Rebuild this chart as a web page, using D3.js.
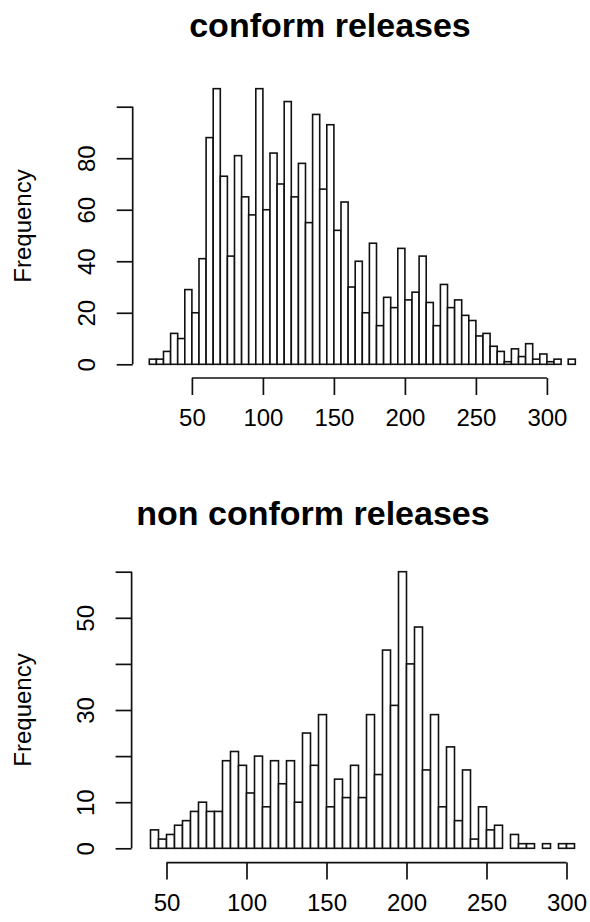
<!DOCTYPE html>
<html>
<head>
<meta charset="utf-8">
<script src="https://cdn.jsdelivr.net/npm/d3@7"></script>
<style>
  body { margin: 0; background: #fff; }
  svg { display: block; font-family: "Liberation Sans", Arial, sans-serif; }
</style>
</head>
<body>
<div id="chart"></div>
<script>
// bin width 5, first bin start
const binWidth = 5;

const conformStart = 20;
const conformCounts = [
  2, 2, 5, 12, 10, 29, 20, 41, 88, 107,
  73, 42, 81, 65, 58, 107, 60, 82, 70, 102,
  65, 78, 55, 97, 68, 93, 52, 63, 30, 40,
  20, 47, 15, 26, 22, 45, 25, 28, 42, 24,
  15, 31, 22, 25, 19, 17, 11, 12, 7, 5,
  1, 6, 3, 8, 2, 4, 1, 2, 0, 2,
];
const conformXTicks = [50, 100, 150, 200, 250, 300];
const conformYTicks = [0, 20, 40, 60, 80, 100];
const conformYLabels = [0, 20, 40, 60, 80];

const nonConformStart = 40;
const nonConformCounts = [
  4, 2, 3, 5, 6, 8, 10, 8, 8, 19,
  21, 18, 12, 20, 9, 19, 14, 19, 10, 25,
  18, 29, 9, 15, 11, 18, 11, 29, 16, 43,
  31, 60, 40, 48, 17, 29, 9, 22, 6, 17,
  2, 9, 4, 5, 0, 3, 1, 1, 0, 1,
  0, 1, 1,
];
const nonConformXTicks = [50, 100, 150, 200, 250, 300];
const nonConformYTicks = [0, 10, 20, 30, 40, 50, 60];
const nonConformYLabels = [0, 10, 30, 50];

const width = 590;
const height = 922;
const ink = '#111';

const svg = d3.select('#chart').append('svg')
  .attr('width', width)
  .attr('height', height);

const toBins = (start, counts) => counts.map((c, i) => ({
  x0: start + i * binWidth,
  x1: start + (i + 1) * binWidth,
  count: c,
}));

const drawHist = (opts) => {
  const bins = toBins(opts.start, opts.counts);
  const x = d3.scaleLinear().domain(opts.xDomain).range(opts.xRange);
  const y = d3.scaleLinear().domain(opts.yDomain).range(opts.yRange);
  const g = svg.append('g');

  // title
  g.append('text')
    .attr('x', opts.titleX)
    .attr('y', opts.titleY)
    .attr('text-anchor', 'middle')
    .style('font-size', '34px')
    .style('font-weight', 'bold')
    .attr('fill', '#000')
    .text(opts.title);

  // bars
  g.append('g')
    .selectAll('rect')
    .data(bins.filter((d) => d.count > 0))
    .enter()
    .append('rect')
    .attr('x', (d) => x(d.x0))
    .attr('y', (d) => y(d.count))
    .attr('width', (d) => x(d.x1) - x(d.x0))
    .attr('height', (d) => y(0) - y(d.count))
    .attr('fill', '#fff')
    .attr('stroke', ink)
    .attr('stroke-width', 1.6);

  // x axis, R style: line only between first and last tick
  const xAxis = g.append('g')
    .attr('transform', `translate(0,${opts.xAxisY})`)
    .call(d3.axisBottom(x).tickValues(opts.xTicks).tickSize(17).tickSizeOuter(0).tickPadding(24));
  xAxis.select('.domain')
    .attr('d', `M${x(opts.xTicks[0])},0H${x(opts.xTicks[opts.xTicks.length - 1])}`);
  xAxis.selectAll('line, path').attr('stroke', ink).attr('stroke-width', 1.7);
  xAxis.selectAll('text')
    .attr('dy', null)
    .attr('y', 48)
    .attr('fill', '#000')
    .style('font-size', '24px')
    .style('font-family', '"Liberation Sans", Arial, sans-serif');

  // y axis
  const yAxis = g.append('g')
    .attr('transform', `translate(${opts.yAxisX},0)`)
    .call(d3.axisLeft(y).tickValues(opts.yTicks).tickSize(16).tickSizeOuter(0)
      .tickFormat((v) => (opts.yLabels.includes(v) ? v : '')));
  yAxis.select('.domain')
    .attr('d', `M0,${y(opts.yTicks[0])}V${y(opts.yTicks[opts.yTicks.length - 1])}`);
  yAxis.selectAll('line, path').attr('stroke', ink).attr('stroke-width', 1.7);
  yAxis.selectAll('text')
    .attr('x', null)
    .attr('dy', null)
    .attr('text-anchor', 'middle')
    .attr('transform', 'translate(-38,0) rotate(-90)')
    .attr('fill', '#000')
    .style('font-size', '24px')
    .style('font-family', '"Liberation Sans", Arial, sans-serif');

  // y label
  g.append('text')
    .attr('transform', `translate(31,${opts.yLabelY}) rotate(-90)`)
    .attr('text-anchor', 'middle')
    .style('font-size', '24px')
    .attr('fill', '#000')
    .text('Frequency');
};

drawHist({
  title: 'conform releases',
  titleX: 330,
  titleY: 37,
  start: conformStart,
  counts: conformCounts,
  xDomain: [20, 320],
  xRange: [149.3, 575.3],
  yDomain: [0, 100],
  yRange: [364.3, 106.7],
  xTicks: conformXTicks,
  yTicks: conformYTicks,
  yLabels: conformYLabels,
  xAxisY: 378,
  yAxisX: 132.7,
  yLabelY: 226,
});

drawHist({
  title: 'non conform releases',
  titleX: 313,
  titleY: 525,
  start: nonConformStart,
  counts: nonConformCounts,
  xDomain: [40, 305],
  xRange: [150.5, 574.5],
  yDomain: [0, 60],
  yRange: [848.3, 571.7],
  xTicks: nonConformXTicks,
  yTicks: nonConformYTicks,
  yLabels: nonConformYLabels,
  xAxisY: 862.6,
  yAxisX: 131.6,
  yLabelY: 710,
});
</script>
</body>
</html>
